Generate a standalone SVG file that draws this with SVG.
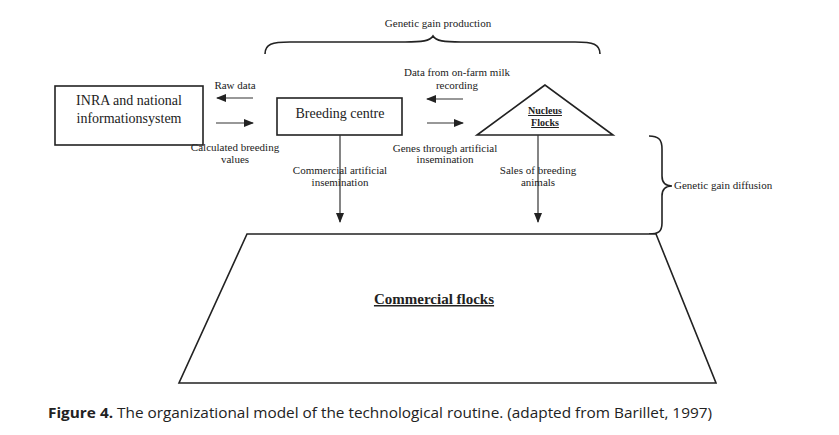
<svg xmlns="http://www.w3.org/2000/svg" width="839" height="435" viewBox="0 0 839 435">
<style>
.s{font-family:"Liberation Serif","Times New Roman",serif;fill:#222}
.l{font-size:11px}
.n{font-size:10px}
.m{font-size:14px}
.b{font-weight:bold;text-decoration:underline}
.sh{fill:#fff;stroke:#222;stroke-width:1.6}
.c{stroke:#333;stroke-width:1.2;fill:none}
.br{stroke:#222;stroke-width:1.6;fill:none}
</style>
<defs>
<marker id="ah" viewBox="0 0 10 10" refX="9" refY="5" markerWidth="10" markerHeight="10" markerUnits="userSpaceOnUse" orient="auto">
<path d="M0,1 L10,5 L0,9 Z" fill="#222"/>
</marker>
</defs>
<rect width="839" height="435" fill="#fff"/>
<g id="braces">
<path class="br" d="M265,54 C265,44 272,42 290,42 L405,42 C422,42 430,41 433,36 C436,41 444,42 461,42 L575,42 C593,42 600,44 600,54"/>
<text class="s l" x="438" y="27" text-anchor="middle">Genetic gain production</text>
<path class="br" d="M649,136 C658,136 662,139 662,149 L662,176 C662,183 665,186 672,186 C665,186 662,189 662,196 L662,223 C662,232 658,234 649,234"/>
<text class="s l" x="674" y="189">Genetic gain diffusion</text>
</g>
<g id="inra">
<rect class="sh" x="55" y="86" width="148" height="59"/>
<text class="s m" x="129" y="105" text-anchor="middle">INRA and national</text>
<text class="s m" x="129" y="123" text-anchor="middle">informationsystem</text>
</g>
<g id="breeding">
<rect class="sh" x="277" y="98" width="125" height="37"/>
<text class="s m" x="340" y="118" text-anchor="middle">Breeding centre</text>
</g>
<g id="nucleus">
<polygon class="sh" points="545,85 477,135 613,135"/>
<text class="s n b" x="545" y="114" text-anchor="middle">Nucleus</text>
<text class="s n b" x="545" y="126" text-anchor="middle">Flocks</text>
</g>
<g id="commercial">
<polygon class="sh" points="247,234 656,234 716,383 179,383"/>
<text class="s b" style="font-size:15px" x="434" y="304" text-anchor="middle">Commercial flocks</text>
</g>
<g id="connectors">
<line class="c" x1="253" y1="98" x2="217" y2="98" marker-end="url(#ah)"/>
<line class="c" x1="216" y1="123" x2="253" y2="123" marker-end="url(#ah)"/>
<line class="c" x1="463" y1="99" x2="427" y2="99" marker-end="url(#ah)"/>
<line class="c" x1="427" y1="123" x2="463" y2="123" marker-end="url(#ah)"/>
<line class="c" x1="340" y1="135" x2="340" y2="222" marker-end="url(#ah)"/>
<line class="c" x1="538" y1="135" x2="538" y2="222" marker-end="url(#ah)"/>
<text class="s l" x="235" y="89" text-anchor="middle">Raw data</text>
<text class="s l" x="235" y="151" text-anchor="middle">Calculated breeding</text>
<text class="s l" x="235" y="163" text-anchor="middle">values</text>
<text class="s l" x="457" y="76" text-anchor="middle">Data from on-farm milk</text>
<text class="s l" x="457" y="89" text-anchor="middle">recording</text>
<text class="s l" x="445" y="152" text-anchor="middle">Genes through artificial</text>
<text class="s l" x="445" y="163" text-anchor="middle">insemination</text>
<text class="s l" x="340" y="174" text-anchor="middle">Commercial artificial</text>
<text class="s l" x="340" y="186" text-anchor="middle">insemination</text>
<text class="s l" x="538" y="174" text-anchor="middle">Sales of breeding</text>
<text class="s l" x="538" y="186" text-anchor="middle">animals</text>
</g>
<text x="48" y="418" style="font-family:'Open Sans','Liberation Sans',sans-serif;font-size:15px;fill:#222" textLength="664" lengthAdjust="spacingAndGlyphs"><tspan font-weight="bold">Figure 4.</tspan> The organizational model of the technological routine. (adapted from Barillet, 1997)</text>
</svg>
